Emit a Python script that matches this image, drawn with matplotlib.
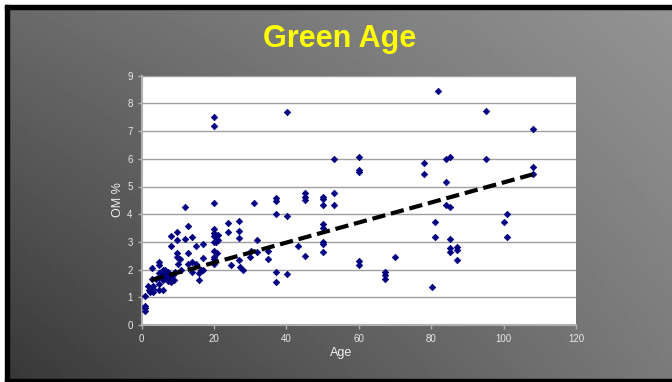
import numpy as np
import matplotlib.pyplot as plt
from matplotlib.patches import Rectangle

# Green Age vs organic matter
age = [0.9, 0.9, 0.9, 0.9, 1.8, 2.1, 2.3, 3.0, 3.0, 3.0, 2.9, 2.9, 3.9,
       4.9, 4.9, 4.9, 4.9, 4.9, 4.9, 5.8, 5.8, 5.8, 6.0, 6.4, 6.4, 6.9,
       7.2, 7.4, 7.8, 8.0, 8.0, 8.0, 8.7, 8.9, 9.2, 9.8, 9.8, 9.8, 9.8,
       10.0, 10.6, 10.9, 11.9, 11.9, 12.8, 12.8, 12.8, 13.8, 13.8, 14.0,
       14.9, 14.9, 15.9, 15.9, 16.5, 16.8, 17.0, 17.0,
       20, 20, 20, 20, 20, 20, 20, 20, 20, 20, 20, 20.6, 20.6, 20.8,
       21.1, 21.1, 23.9, 23.9, 24.8, 26.9, 26.9, 26.9, 26.9, 27.1, 28.0,
       29.8, 30.3, 30.9, 31.8, 31.8, 34.9, 34.9,
       37.1, 37.1, 37.1, 37.1, 37.1, 40.2, 40.2, 40.2, 43.1,
       45.1, 45.1, 45.1, 45.1, 50.1, 50.1, 50.1, 50.1, 50.1, 50.1, 50.1,
       50.1, 53.2, 53.2, 53.2, 60.1, 60.1, 60.1, 60.1, 60.1,
       67.1, 67.1, 67.1, 70.1, 78.1, 78.1, 80.1, 81.0, 81.0, 82.0,
       84.0, 84.0, 84.0, 85.1, 85.1, 85.1, 85.1, 85.1, 87.1, 87.1, 87.1,
       95.0, 95.0, 100.0, 101.0, 101.0, 108.1, 108.1, 108.1]
om = [1.06, 0.69, 0.60, 0.52, 1.42, 1.26, 1.18, 1.41, 1.29, 1.18, 2.07, 1.67, 1.66,
      2.26, 2.18, 1.87, 1.72, 1.47, 1.26, 2.00, 1.80, 1.62, 1.26, 1.98, 1.68, 1.87,
      1.60, 1.93, 1.75, 1.56, 3.21, 2.86, 1.80, 1.62, 1.93, 3.37, 3.07, 2.59, 2.47,
      2.20, 2.37, 2.00, 4.27, 3.09, 3.57, 2.61, 2.20, 3.19, 2.29, 1.93,
      2.85, 2.20, 1.87, 1.62, 1.98, 2.91, 2.41, 2.00,
      7.50, 7.18, 4.42, 3.45, 3.33, 3.21, 3.00, 2.68, 2.47, 2.37, 2.20, 3.19, 3.00, 2.61,
      3.25, 3.07, 3.69, 3.35, 2.17, 3.77, 3.40, 3.14, 2.35, 2.10, 2.00,
      2.47, 2.67, 4.39, 3.07, 2.65, 2.68, 2.37,
      4.57, 4.49, 4.00, 1.90, 1.54, 7.68, 3.93, 1.84, 2.86,
      4.75, 4.63, 4.51, 2.49, 4.63, 4.56, 4.32, 3.65, 3.49, 3.00, 2.92,
      2.65, 5.98, 4.78, 4.33, 6.05, 5.60, 5.54, 2.31, 2.17,
      1.90, 1.80, 1.65, 2.47, 5.86, 5.44, 1.36, 3.71, 3.19, 8.45,
      5.98, 5.17, 4.33, 6.05, 4.27, 3.10, 2.79, 2.62, 2.83, 2.71, 2.35,
      7.74, 5.98, 3.73, 4.00, 3.19, 7.06, 5.69, 5.45]

# dashed trend line as drawn on the chart (end points)
trend_age = [2.5, 108.1]
trend_om = [1.62, 5.44]

plt.rcParams['font.family'] = ['Liberation Sans', 'DejaVu Sans']

W, H = 672, 382
fig = plt.figure(figsize=(W / 100, H / 100), dpi=100)

# diagonal grey gradient behind everything
bg = fig.add_axes([0, 0, 1, 1], zorder=-10)
u = np.linspace(0, 1, 200)
v = np.linspace(0, 1, 120)[:, None]
tl, tr, bl, br = 106, 148, 55, 122
grad = (tl * (1 - u) * (1 - v) + tr * u * (1 - v) + bl * (1 - u) * v + br * u * v) / 255
bg.imshow(grad, cmap='gray', vmin=0, vmax=1, aspect='auto', extent=[0, 1, 0, 1])
bg.axis('off')

# slide frame
fig.add_artist(Rectangle((0, 0), 5 / W, 1, transform=fig.transFigure, color='white'))
fig.add_artist(Rectangle((0, 1 - 5 / H), 1, 5 / H, transform=fig.transFigure, color='white'))
fig.add_artist(Rectangle((5 / W, 0), 4 / W, 1 - 5 / H, transform=fig.transFigure, color='black'))
fig.add_artist(Rectangle((5 / W, 1 - 9 / H), 1, 4 / H, transform=fig.transFigure, color='black'))
fig.add_artist(Rectangle((5 / W, 0), 1, 3 / H, transform=fig.transFigure, color='black'))

ax = fig.add_axes([141.7 / W, (H - 325) / H, (576 - 141.7) / W, (325 - 75.7) / H])
ax.set_facecolor('white')
ax.scatter(age, om, marker='D', s=11, color='#000080', edgecolor='#000080', linewidth=0.5, zorder=3)

ax.plot(trend_age, trend_om, color='black', lw=3, linestyle=(0, (3.2, 1.4)), zorder=4)

ax.set_xlim(0, 120)
ax.set_ylim(0, 9)
ax.set_xticks(range(0, 121, 20))
ax.set_yticks(range(0, 10))
ax.grid(axis='y', color='#a0a0a0', lw=1)
ax.set_axisbelow(True)
for s in ['top', 'right']:
    ax.spines[s].set_visible(False)
for s in ['left', 'bottom']:
    ax.spines[s].set_color('#b0b0b0')
    ax.spines[s].set_linewidth(1.5)
ax.tick_params(colors='#b0b0b0', labelcolor='#e8e8e8', labelsize=7, length=3, width=1)

fig.text(341 / W, 1 - 353 / H, 'Age', color='#f0f0f0', fontsize=9, ha='center', va='center')
fig.text(118 / W, 1 - 200 / H, 'OM %', color='#f0f0f0', fontsize=9, ha='center', va='center', rotation=90)
fig.text(340 / W, 1 - 39 / H, 'Green Age', color='#ffff00', fontsize=22, fontweight='bold',
         ha='center', va='center')

fig.savefig('out.png', dpi=100)
